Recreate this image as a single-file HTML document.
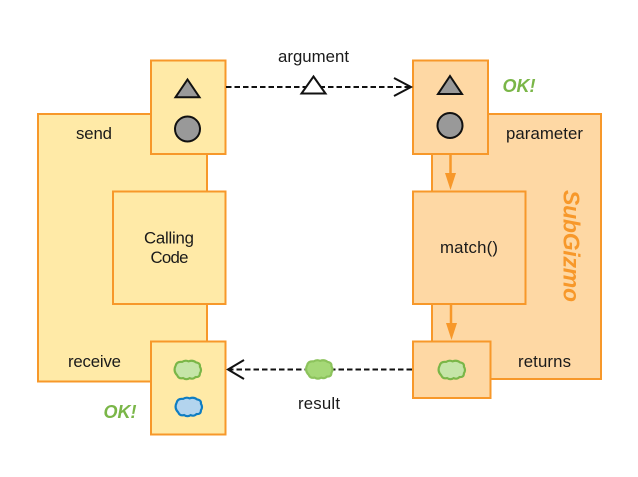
<!DOCTYPE html>
<html>
<head>
<meta charset="utf-8">
<style>
html,body{margin:0;padding:0;background:#fff;width:638px;height:477px;overflow:hidden}
svg{display:block}
text{font-family:"Liberation Sans",sans-serif;font-size:16.8px;fill:#1a1a1a}
.ok{font-size:18px;font-weight:bold;font-style:italic;fill:#7ab648}
</style>
</head>
<body>
<svg width="638" height="477" viewBox="0 0 638 477" xmlns="http://www.w3.org/2000/svg">
<defs>
<path id="cloud" d="M-11,-4 Q-10,-8 -5,-7.500 Q-2,-9.500 1,-8 Q5,-9.500 8,-7 Q12,-6.500 11.500,-3 Q13.500,0 11.500,3 Q11.500,7 7.500,6.500 Q5,9 2,7.500 Q-1,9.500 -4,7.500 Q-8,8.500 -9.500,5 Q-13.500,1 -11,-4 Z"/>
</defs>

<!-- Left big -->
<rect x="38" y="114" width="169" height="267.500" fill="#ffeaa7" stroke="#f7982a" stroke-width="2"/>
<!-- Right big -->
<rect x="432" y="114" width="169" height="265" fill="#fed8a4" stroke="#f7982a" stroke-width="2"/>

<!-- Send box -->
<rect x="151" y="60.500" width="74.500" height="93.500" fill="#ffeaa7" stroke="#f7982a" stroke-width="2"/>
<polygon points="187.500,79.500 199.500,97.200 175.500,97.200" fill="#999" stroke="#111" stroke-width="2"/>
<circle cx="187.500" cy="129" r="12.500" fill="#999" stroke="#111" stroke-width="2"/>

<!-- Calling code -->
<rect x="113" y="191.500" width="112.500" height="112.500" fill="#ffeaa7" stroke="#f7982a" stroke-width="2"/>
<text x="144" y="243.500" textLength="50">Calling</text>
<text x="150.500" y="263" textLength="38">Code</text>

<!-- Receive box -->
<rect x="151" y="341.500" width="74.500" height="93" fill="#ffeaa7" stroke="#f7982a" stroke-width="2"/>
<use href="#cloud" transform="translate(187.500,370) scale(1.08)" fill="#c5e5a8" stroke="#7ab648" stroke-width="2"/>
<use href="#cloud" transform="translate(188.500,407) scale(1.08)" fill="#b3d4ee" stroke="#0f7dc2" stroke-width="2"/>

<!-- Parameter box -->
<rect x="413" y="60.500" width="75" height="93.500" fill="#fed8a4" stroke="#f7982a" stroke-width="2"/>
<polygon points="450,76 462,94 438,94" fill="#999" stroke="#111" stroke-width="2"/>
<circle cx="450" cy="125.500" r="12.500" fill="#999" stroke="#111" stroke-width="2"/>

<!-- match -->
<rect x="413" y="191.500" width="112.500" height="112.500" fill="#fed8a4" stroke="#f7982a" stroke-width="2"/>
<text x="440" y="253" textLength="58">match()</text>

<!-- Returns box -->
<rect x="413" y="341.500" width="77.500" height="56.500" fill="#fed8a4" stroke="#f7982a" stroke-width="2"/>
<use href="#cloud" transform="translate(451.500,370) scale(1.08)" fill="#c5e5a8" stroke="#7ab648" stroke-width="2"/>

<!-- orange arrows -->
<line x1="450.500" y1="154" x2="450.500" y2="175" stroke="#f7982a" stroke-width="2.500"/>
<polygon points="445,173 456,173 450.500,190" fill="#f7982a"/>
<line x1="451" y1="304" x2="451" y2="325" stroke="#f7982a" stroke-width="2.500"/>
<polygon points="446,323 457,323 451.500,340" fill="#f7982a"/>

<!-- dashed top -->
<line x1="226" y1="87" x2="410" y2="87" stroke="#111" stroke-width="2" stroke-dasharray="5.500 3"/>
<polyline points="394,78 411,87 394,96" fill="none" stroke="#111" stroke-width="2"/>
<polygon points="313.500,76.500 325.500,93.500 301.500,93.500" fill="#fff" stroke="#111" stroke-width="2"/>

<!-- dashed bottom -->
<line x1="412" y1="369.500" x2="230" y2="369.500" stroke="#111" stroke-width="2" stroke-dasharray="5.500 3"/>
<polyline points="244,360 228,369.500 244,379" fill="none" stroke="#111" stroke-width="2"/>
<use href="#cloud" transform="translate(319,369.500) scale(1.08)" fill="#a5d877" stroke="#8cc35c" stroke-width="2"/>

<!-- labels -->
<text x="278" y="62" textLength="71">argument</text>
<text x="298" y="409" textLength="42">result</text>
<text x="76" y="139" textLength="36">send</text>
<text x="68" y="367" textLength="53">receive</text>
<text x="506" y="139" textLength="77">parameter</text>
<text x="518" y="367" textLength="53">returns</text>
<text class="ok" x="519" y="92" text-anchor="middle">OK!</text>
<text class="ok" x="120" y="418" text-anchor="middle">OK!</text>
<text transform="translate(563.500,190) rotate(90)" textLength="112" style="font-size:23px;font-weight:bold;font-style:italic;fill:#f7982a">SubGizmo</text>
</svg>
</body>
</html>
